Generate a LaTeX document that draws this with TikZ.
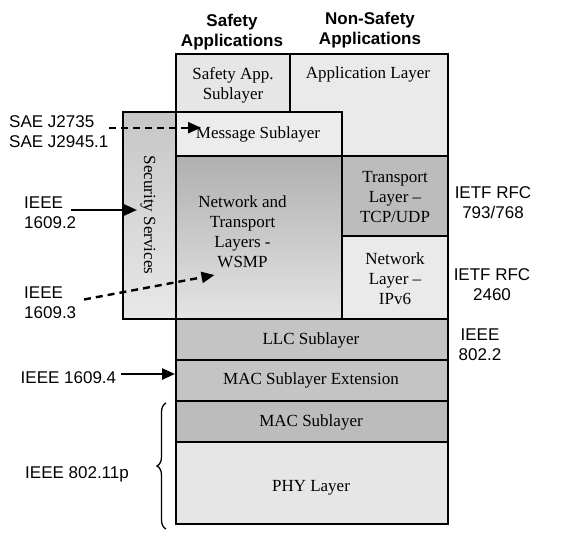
\documentclass[tikz,border=0pt]{standalone}
\usepackage{fontspec}
\setmainfont{Liberation Serif}
\newfontfamily\lblfont{Liberation Sans}
\usetikzlibrary{arrows.meta,decorations.pathreplacing}
\definecolor{lightA}{HTML}{E6E6E6}
\definecolor{lightB}{HTML}{EAEAEA}
\definecolor{lightC}{HTML}{ECECEC}
\definecolor{midA}{HTML}{BCBCBC}
\definecolor{midB}{HTML}{C4C4C4}
\definecolor{secTop}{HTML}{C6C6C6}
\definecolor{secBot}{HTML}{E8E8E8}
\definecolor{ntTop}{HTML}{B0B0B0}
\definecolor{ntBot}{HTML}{E4E4E4}
\begin{document}
\begin{tikzpicture}[x=1pt,y=-1pt,
  layer/.style={draw=black, line width=1.9pt, inner sep=0pt, outer sep=0pt, anchor=north west},
  boxtext/.style={font=\fontsize{17}{20}\selectfont, align=center, inner sep=0pt},
  lbl/.style={font=\lblfont\fontsize{17}{20}\selectfont, align=left, inner sep=0pt},
  lblc/.style={font=\lblfont\fontsize{17}{20}\selectfont, align=center, inner sep=0pt},
  title/.style={font=\lblfont\bfseries\fontsize{17}{20}\selectfont, align=center, inner sep=0pt},
  solidarrow/.style={line width=2.4pt, -{Triangle[length=13pt,width=11pt]}},
  dasharrow/.style={line width=2.4pt, dash pattern=on 7pt off 5pt, -{Triangle[length=13pt,width=11pt]}}
]
\useasboundingbox (0,0) rectangle (562,551);
\fill[white] (0,0) rectangle (562,551);

% layer boxes
\node[layer, fill=lightA, minimum width=114pt, minimum height=58pt] (safe) at (176,54) {};
\node[layer, fill=lightB, minimum width=158pt, minimum height=102pt] (appl) at (290,54) {};
\node[layer, top color=secTop, bottom color=secBot, draw=black, minimum width=53pt, minimum height=207pt] (sec) at (123,112) {};
\node[layer, fill=lightC, minimum width=166pt, minimum height=44pt] (msg) at (176,112) {};
\node[layer, top color=ntTop, bottom color=ntBot, draw=black, minimum width=166pt, minimum height=163pt] (nt) at (176,156) {};
\node[layer, fill=midA, minimum width=106pt, minimum height=80pt] (tcp) at (342,156) {};
\node[layer, fill=lightB, minimum width=106pt, minimum height=83pt] (ipv) at (342,236) {};
\node[layer, fill=midB, minimum width=272pt, minimum height=41pt] (llc) at (176,319) {};
\node[layer, fill=midB, minimum width=272pt, minimum height=41pt] (macx) at (176,360) {};
\node[layer, fill=midA, minimum width=272pt, minimum height=41pt] (mac) at (176,401) {};
\node[layer, fill=lightA, minimum width=272pt, minimum height=82pt] (phy) at (176,442) {};

% box texts
\node[boxtext] (tsafe) at (233,85) {Safety App.\\Sublayer};
\node[boxtext] (tappl) at (368,74.5) {Application Layer};
\node[boxtext] (tmsg) at (258,134) {Message Sublayer};
\node[boxtext, rotate=-90] (tsec) at (148,215) {Security Services};
\node[boxtext] (tnt) at (242.5,232) {Network and\\Transport\\Layers -\\WSMP};
\node[boxtext] (ttcp) at (395,197.5) {Transport\\Layer --\\TCP/UDP};
\node[boxtext] (tipv) at (395,278.5) {Network\\Layer --\\IPv6};
\node[boxtext] (tllc) at (311,340.5) {LLC Sublayer};
\node[boxtext] (tmacx) at (311,380.5) {MAC Sublayer Extension};
\node[boxtext] (tmac) at (311,422) {MAC Sublayer};
\node[boxtext] (tphy) at (311,488) {PHY Layer};

% titles
\node[title] (ts) at (232,32.5) {Safety\\Applications};
\node[title] (tns) at (370,30.5) {Non-Safety\\Applications};

% standards labels
\node[lbl, anchor=west] (sae) at (9,131.5) {SAE J2735\\SAE J2945.1};
\node[lbl, anchor=west] (i2) at (24,212.5) {IEEE\\1609.2};
\node[lbl, anchor=west] (i3) at (24,302.5) {IEEE\\1609.3};
\node[lbl, anchor=west] (i4) at (20.5,378) {IEEE 1609.4};
\node[lbl, anchor=west] (i11) at (25,474) {IEEE 802.11p};
\node[lblc] (rfc1) at (493,202.5) {IETF RFC\\793/768};
\node[lblc] (rfc2) at (492,284.5) {IETF RFC\\2460};
\node[lblc] (i22) at (480,344.5) {IEEE\\802.2};

% arrow ends
\coordinate (saeS) at (109,127.7);
\coordinate (saeE) at (201,127.7);
\coordinate (i2S) at (71,210);
\coordinate (i2E) at (137,210);
\coordinate (i3S) at (84,299.5);
\coordinate (i3E) at (214.5,275);
\coordinate (i4S) at (121,374);
\coordinate (i4E) at (175,374);

\draw[dasharrow] (saeS) -- (saeE);
\draw[solidarrow] (i2S) -- (i2E);
\draw[dasharrow] (i3S) -- (i3E);
\draw[solidarrow] (i4S) -- (i4E);

% brace
\coordinate (brB) at (166,529);
\coordinate (brT) at (166,403);
\draw[line width=1.3pt, decorate, decoration={brace, amplitude=9pt}] (brB) -- (brT);
\end{tikzpicture}
\end{document}
